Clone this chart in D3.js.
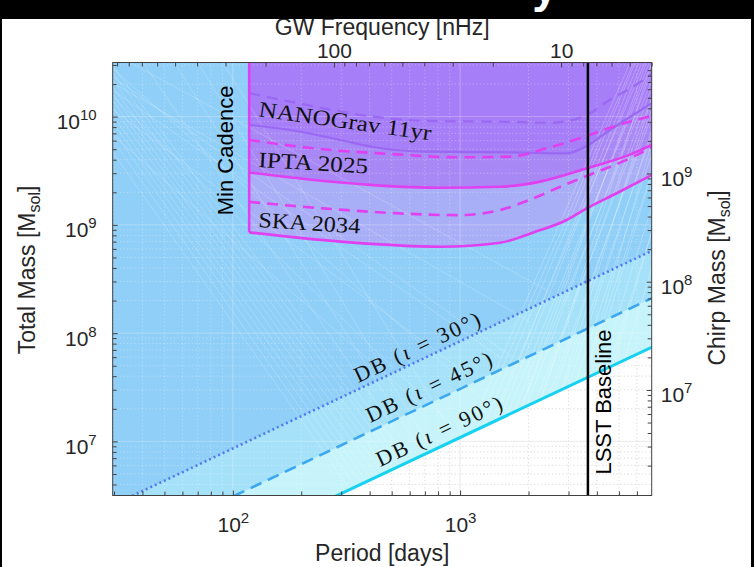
<!DOCTYPE html>
<html><head><meta charset="utf-8">
<script src="https://cdn.jsdelivr.net/npm/d3@7"></script>
<style>body{margin:0;background:#fff;overflow:hidden}svg{display:block}</style>
</head><body><svg id="chart" width="754" height="567"></svg>
<script>
// ---------------- data ----------------
const periodLimits = [29.6, 6970];          // days
const massLimits = [3.162e6, 3.162e10];     // total mass [Msol]
const chirpRatio = 0.335;                   // chirp mass / total mass
const freqConst = 27850;                    // GW frequency [nHz] = freqConst / period[days]
const minCadence = 118;                     // days
const lsstBaseline = 3652;                  // days

const xMajorTicks = [100, 1000];
const xMinorTicks = [30,40,50,60,70,80,90,200,300,400,500,600,700,800,900,2000,3000,4000,5000,6000];
const yMajorTicks = [1e7, 1e8, 1e9, 1e10];
const yMinorTicks = [4e6,5e6,6e6,7e6,8e6,9e6,2e7,3e7,4e7,5e7,6e7,7e7,8e7,9e7,2e8,3e8,4e8,5e8,6e8,7e8,8e8,9e8,2e9,3e9,4e9,5e9,6e9,7e9,8e9,9e9,2e10,3e10];
const chirpMajorTicks = [1e7, 1e8, 1e9];
const chirpMinorTicks = [2e6,3e6,4e6,5e6,6e6,7e6,8e6,9e6,2e7,3e7,4e7,5e7,6e7,7e7,8e7,9e7,2e8,3e8,4e8,5e8,6e8,7e8,8e8,9e8,2e9,3e9,4e9,5e9,6e9,7e9,8e9,9e9];
const freqMajorTicks = [100, 10];
const freqMinorTicks = [900,800,700,600,500,400,300,200,90,80,70,60,50,40,30,20,9,8,7,6,5,4];

// PTA sensitivity curves: [period days, total mass]
const nanogravSolid = [[118,8.37e9],[179,7.52e9],[297,6.08e9],[414,5.24e9],[714,4.74e9],[1660,4.67e9],[2944,4.58e9],[3606,5.36e9],[4571,7.52e9],[5768,1.035e10],[7000,1.34e10]];
const nanogravDashed = [[118,1.65e10],[212,1.28e10],[416,9.98e9],[714,9.12e9],[1500,8.97e9],[2489,8.79e9],[3477,9.98e9],[4571,1.43e10],[5768,1.89e10],[7000,2.5e10]];
const iptaSolid = [[118,3.05e9],[212,2.64e9],[416,2.33e9],[817,2.20e9],[1500,2.25e9],[2250,2.51e9],[3606,3.33e9],[5775,4.58e9],[7000,5.5e9]];
const iptaDashed = [[118,6.08e9],[250,4.99e9],[492,4.52e9],[967,4.21e9],[1660,4.27e9],[2489,5.21e9],[3606,6.62e9],[4710,8.07e9],[7000,1.02e10]];
const skaSolid = [[118,8.53e8],[297,7.0e8],[817,6.28e8],[1500,6.84e8],[2102,8.51e8],[2944,1.11e9],[3606,1.42e9],[4887,1.96e9],[7000,2.9e9]];
const skaDashed = [[118,1.63e9],[250,1.42e9],[492,1.29e9],[967,1.23e9],[1500,1.37e9],[2102,1.76e9],[2761,2.25e9],[3606,2.83e9],[4571,3.44e9],[6194,4.58e9],[7000,5.27e9]];

// Doppler-boost detectability limits
const db30 = [[25,2.18e6],[8000,6.59e8]];
const db45 = [[25,7.8e5],[8000,2.41e8]];
const db90 = [[25,2.82e5],[8000,8.49e7]];

// faint binary tracks [P0, M0, P1, M1]
const tracksLeft = [
 [29,3.1e10,780,3.1e6],[29,2.7e10,720,3.1e6],[29,2.3e10,680,3.1e6],[29,2.0e10,620,3.1e6],
 [29,1.7e10,580,3.1e6],[29,1.5e10,540,3.1e6],[29,1.3e10,500,3.1e6],[29,1.1e10,460,3.1e6],
 [29,9.5e9,430,3.1e6],[29,8.0e9,400,3.1e6],[29,6.5e9,370,3.1e6],[29,5.0e9,345,3.1e6],
 [29,2.9e10,1400,2.0e7],[29,2.4e10,1700,6.0e7],[29,2.1e10,2000,1.3e8],[29,1.8e10,1500,6.0e7],
 [40,3.2e10,820,3.1e6],[55,3.2e10,900,3.1e6],[70,3.2e10,1000,3.1e6],[90,3.2e10,1200,5.0e6],
 [29,1.2e10,1100,4.0e7],[29,1.6e10,900,1.5e7],[35,3.2e10,2400,2.5e8],[29,7.0e9,700,2.0e7]
];
const tracksFan = [
 [824,5600],[880,5800],[950,5900],[1000,6500],[1050,6100],[1100,6300],[1150,7000],[1250,6800],
 [1300,7500],[1350,6600],[1400,7200],[1500,8000],[1600,7600],[1650,7000],[1700,8500],[1800,8200],
 [1950,9000],[2000,7800],[2100,8700],[2200,9500],[2400,10000],[2500,8800],[2600,9800],[2800,11000],
 [3000,12000],[3200,11500],[3500,13000]
];

// ---------------- drawing ----------------
const W = 754, H = 567;
const L = 112.7, R = 651.7, T = 62.5, B = 495.5;
const x = d3.scaleLog().domain(periodLimits).range([L, R]);
const y = d3.scaleLog().domain(massLimits).range([B, T]);
const yChirp = d3.scaleLog().domain(massLimits.map(m => m * chirpRatio)).range([B, T]);
const xFreq = d3.scaleLog().domain(periodLimits.map(p => freqConst / p)).range([L, R]);

const svg = d3.select("#chart");
const sans = "'Liberation Sans', Arial, Helvetica, sans-serif";
const serif = "'Liberation Serif', 'Times New Roman', serif";
const textCol = "#262626";

svg.append("rect").attr("width", W).attr("height", H).attr("fill", "#fff");

const defs = svg.append("defs");
defs.append("clipPath").attr("id", "plotClip").append("rect")
  .attr("x", L).attr("y", T).attr("width", R - L).attr("height", B - T);

const plot = svg.append("g").attr("clip-path", "url(#plotClip)");

function drawGrid(g, majorStyle, minorStyle) {
  g.selectAll(".gxm").data(xMinorTicks).join("line")
    .attr("x1", d => x(d)).attr("x2", d => x(d)).attr("y1", T).attr("y2", B)
    .attr("stroke", minorStyle.c).attr("stroke-width", 0.8).attr("stroke-dasharray", "1.2,2.4");
  g.selectAll(".gym").data(yMinorTicks).join("line")
    .attr("y1", d => y(d)).attr("y2", d => y(d)).attr("x1", L).attr("x2", R)
    .attr("stroke", minorStyle.c).attr("stroke-width", 0.8).attr("stroke-dasharray", "1.2,2.4");
  g.selectAll(".gxM").data(xMajorTicks).join("line")
    .attr("x1", d => x(d)).attr("x2", d => x(d)).attr("y1", T).attr("y2", B)
    .attr("stroke", majorStyle.c).attr("stroke-width", 0.8);
  g.selectAll(".gyM").data(yMajorTicks).join("line")
    .attr("y1", d => y(d)).attr("y2", d => y(d)).attr("x1", L).attr("x2", R)
    .attr("stroke", majorStyle.c).attr("stroke-width", 0.8);
}

// grid below the fills (shows in the white region)
const gridLow = plot.append("g");
drawGrid(gridLow.append("g"), {c: "#dedede"}, {c: "#c8c8c8"});
gridLow.selectAll("line").filter(function(){return false;});

// fills above DB limits
const areaAbove = d3.area().x(d => x(d[0])).y0(T).y1(d => y(d[1]));
plot.append("path").datum(db90).attr("d", areaAbove).attr("fill", "#c6f4fa");
plot.append("path").datum(db45).attr("d", areaAbove).attr("fill", "#a5e2fa");
plot.append("path").datum(db30).attr("d", areaAbove).attr("fill", "#90cff8");

// PTA fills
const areaCurve = d3.area().curve(d3.curveMonotoneX).x(d => x(d[0])).y0(T).y1(d => y(d[1]));
plot.append("path").datum(skaSolid).attr("d", areaCurve).attr("fill", "#a9aff6");
plot.append("path").datum(iptaSolid).attr("d", areaCurve).attr("fill", "#a888f5");
plot.append("path").datum(nanogravSolid).attr("d", areaCurve).attr("fill", "#a67ef7");

// faint tracks
const trackG = plot.append("g").attr("stroke", "#fff").attr("fill", "none");
trackG.selectAll(".tl").data(tracksLeft).join("line")
  .attr("x1", d => x(d[0])).attr("y1", d => y(d[1])).attr("x2", d => x(d[2])).attr("y2", d => y(d[3]))
  .attr("stroke-opacity", 0.28).attr("stroke-width", 0.7);
trackG.selectAll(".tf").data(tracksFan).join("line")
  .attr("x1", d => x(d[0])).attr("y1", y(massLimits[0])).attr("x2", d => x(d[1])).attr("y2", y(massLimits[1]))
  .attr("stroke-opacity", 0.3).attr("stroke-width", 0.8);

// grid above the fills
drawGrid(plot.append("g"), {c: "rgba(255,255,255,0.35)"}, {c: "rgba(255,255,255,0.4)"});

// DB lines
const straight = d3.line().x(d => x(d[0])).y(d => y(d[1]));
plot.append("path").datum(db30).attr("d", straight).attr("fill", "none")
  .attr("stroke", "#5279f0").attr("stroke-width", 2.6).attr("stroke-dasharray", "2,3");
plot.append("path").datum(db45).attr("d", straight).attr("fill", "none")
  .attr("stroke", "#3da8f0").attr("stroke-width", 2.6).attr("stroke-dasharray", "12,7");
plot.append("path").datum(db90).attr("d", straight).attr("fill", "none")
  .attr("stroke", "#16d2f0").attr("stroke-width", 3);

// PTA curves
const curveLine = d3.line().curve(d3.curveMonotoneX).x(d => x(d[0])).y(d => y(d[1]));
const magenta = "#e040f0", nanoCol = "#9a68f2";
[[nanogravDashed, nanoCol, "11,7", 2.2], [nanogravSolid, nanoCol, null, 2.2],
 [iptaDashed, magenta, "11,7", 2.6], [iptaSolid, magenta, null, 2.6],
 [skaDashed, magenta, "11,7", 2.6], [skaSolid, magenta, null, 2.6]].forEach(([dat, col, dash, w]) => {
  plot.append("path").datum(dat).attr("d", curveLine).attr("fill", "none")
    .attr("stroke", col).attr("stroke-width", w).attr("stroke-dasharray", dash);
});

// Min cadence line
plot.append("line").attr("x1", x(minCadence)).attr("x2", x(minCadence))
  .attr("y1", T).attr("y2", y(skaSolid[0][1]))
  .attr("stroke", magenta).attr("stroke-width", 2.6);

// LSST baseline
plot.append("line").attr("x1", x(lsstBaseline)).attr("x2", x(lsstBaseline))
  .attr("y1", T).attr("y2", B).attr("stroke", "#000").attr("stroke-width", 2.5);

// ---------------- axes ----------------
const axCol = "#404040";
function styleAxis(g) {
  g.select(".domain").remove();
  g.selectAll(".tick line").attr("stroke", axCol);
  g.selectAll(".tick text").attr("fill", textCol).attr("font-family", sans);
}
function powerLabels(g, sizeBig, sizeSup, supDy) {
  g.selectAll(".tick text").each(function(d) {
    const t = d3.select(this);
    const e = Math.round(Math.log10(d));
    t.text(null).attr("font-size", sizeBig);
    t.append("tspan").text("10");
    t.append("tspan").attr("font-size", sizeSup).attr("dy", supDy).text(e);
  });
}

// bottom
const gB = svg.append("g").attr("transform", `translate(0,${B})`);
gB.append("g").call(d3.axisBottom(x).tickValues(xMinorTicks).tickSizeInner(-4).tickSizeOuter(0).tickFormat(() => "")).call(styleAxis);
const gBM = gB.append("g").call(d3.axisBottom(x).tickValues(xMajorTicks).tickSizeInner(-5).tickSizeOuter(0).tickFormat(() => ""));
styleAxis(gBM);
powerLabels(gBM, 21, 15, -9);
gBM.selectAll(".tick text").attr("y", 36).attr("dy", null);

// top
const gT = svg.append("g").attr("transform", `translate(0,${T})`);
gT.append("g").call(d3.axisTop(xFreq).tickValues(freqMinorTicks).tickSizeInner(-4).tickSizeOuter(0).tickFormat(() => "")).call(styleAxis);
const gTM = gT.append("g").call(d3.axisTop(xFreq).tickValues(freqMajorTicks).tickSizeInner(-5).tickSizeOuter(0).tickFormat(d3.format("d")));
styleAxis(gTM);
gTM.selectAll(".tick text").attr("font-size", 21).attr("y", -5).attr("dy", null);

// left
const gL = svg.append("g").attr("transform", `translate(${L},0)`);
gL.append("g").call(d3.axisLeft(y).tickValues(yMinorTicks).tickSizeInner(-4).tickSizeOuter(0).tickFormat(() => "")).call(styleAxis);
const gLM = gL.append("g").call(d3.axisLeft(y).tickValues(yMajorTicks).tickSizeInner(-5).tickSizeOuter(0).tickFormat(() => ""));
styleAxis(gLM);
powerLabels(gLM, 21, 15, -9);
gLM.selectAll(".tick text").attr("x", -16).attr("y", 12).attr("dy", null);

// right
const gR = svg.append("g").attr("transform", `translate(${R},0)`);
gR.append("g").call(d3.axisRight(yChirp).tickValues(chirpMinorTicks).tickSizeInner(-4).tickSizeOuter(0).tickFormat(() => "")).call(styleAxis);
const gRM = gR.append("g").call(d3.axisRight(yChirp).tickValues(chirpMajorTicks).tickSizeInner(-5).tickSizeOuter(0).tickFormat(() => ""));
styleAxis(gRM);
powerLabels(gRM, 21, 15, -9);
gRM.selectAll(".tick text").attr("x", 9).attr("y", 12).attr("dy", null);

// box
svg.append("rect").attr("x", L).attr("y", T).attr("width", R - L).attr("height", B - T)
  .attr("fill", "none").attr("stroke", axCol).attr("stroke-width", 1);

// axis titles
svg.append("text").attr("x", (L + R) / 2).attr("y", 561).attr("text-anchor", "middle")
  .attr("font-family", sans).attr("font-size", 23).attr("fill", textCol).text("Period [days]");
svg.append("text").attr("x", (L + R) / 2).attr("y", 35).attr("text-anchor", "middle")
  .attr("font-family", sans).attr("font-size", 23).attr("fill", textCol).text("GW Frequency [nHz]");
function massTitle(cx, cy, word) {
  const t = svg.append("text").attr("transform", `translate(${cx},${cy}) rotate(-90)`)
    .attr("text-anchor", "middle").attr("font-family", sans).attr("font-size", 23).attr("fill", textCol);
  t.append("tspan").text(word + " Mass [M");
  t.append("tspan").attr("font-size", 16).attr("dy", 5).text("sol");
  t.append("tspan").attr("dy", -5).text("]");
}
massTitle(35, 270, "Total");
massTitle(725, 278, "Chirp");

// annotations
svg.append("text").attr("transform", `translate(233,${(T + y(skaSolid[0][1])) / 2 + 3}) rotate(-90)`)
  .attr("text-anchor", "middle").attr("font-family", sans).attr("font-size", 22).attr("fill", "#000")
  .text("Min Cadence");
svg.append("text").attr("transform", `translate(${x(lsstBaseline) + 23},402) rotate(-90)`)
  .attr("text-anchor", "middle").attr("font-family", sans).attr("font-size", 22).attr("fill", "#000")
  .text("LSST Baseline");

const ptaLabels = [
  {text: "NANOGrav 11yr", p: 129, m: 1.01e10, angle: 8, len: 174},
  {text: "IPTA 2025", p: 129, m: 3.43e9, angle: 3.4, len: 110},
  {text: "SKA 2034", p: 129, m: 9.55e8, angle: 3.7, len: 102}
];
ptaLabels.forEach(l => {
  svg.append("text").attr("transform", `translate(${x(l.p)},${y(l.m)}) rotate(${l.angle})`)
    .attr("font-family", serif).attr("font-size", 22).attr("fill", "#111")
    .attr("textLength", l.len).attr("lengthAdjust", "spacingAndGlyphs").text(l.text);
});

const dbLabels = [
  {deg: "30°", p: 356, m: 3.46e7, line: db30},
  {deg: "45°", p: 402, m: 1.48e7, line: db45},
  {deg: "90°", p: 445, m: 5.8e6, line: db90}
];
dbLabels.forEach(l => {
  const ang = Math.atan2(y(l.line[1][1]) - y(l.line[0][1]), x(l.line[1][0]) - x(l.line[0][0])) * 180 / Math.PI;
  const t = svg.append("text").attr("transform", `translate(${x(l.p)},${y(l.m)}) rotate(${ang})`)
    .attr("font-family", serif).attr("font-size", 22).attr("fill", "#111")
    .attr("textLength", 137).attr("lengthAdjust", "spacing");
  t.append("tspan").text("DB (");
  t.append("tspan").attr("font-style", "italic").text("ι");
  t.append("tspan").text(" = " + l.deg + ")");
});

// outer frame
svg.append("rect").attr("x", 0).attr("y", 0).attr("width", W).attr("height", 19).attr("fill", "#000");
svg.append("rect").attr("x", 0).attr("y", 0).attr("width", 2).attr("height", H).attr("fill", "#000");
svg.append("rect").attr("x", 751).attr("y", 0).attr("width", 3).attr("height", H).attr("fill", "#000");
svg.append("text").attr("x", 545).attr("y", 2).attr("text-anchor", "middle")
  .attr("font-family", sans).attr("font-weight", "bold").attr("font-size", 46).attr("fill", "#fff").text("y");
</script></body></html>
